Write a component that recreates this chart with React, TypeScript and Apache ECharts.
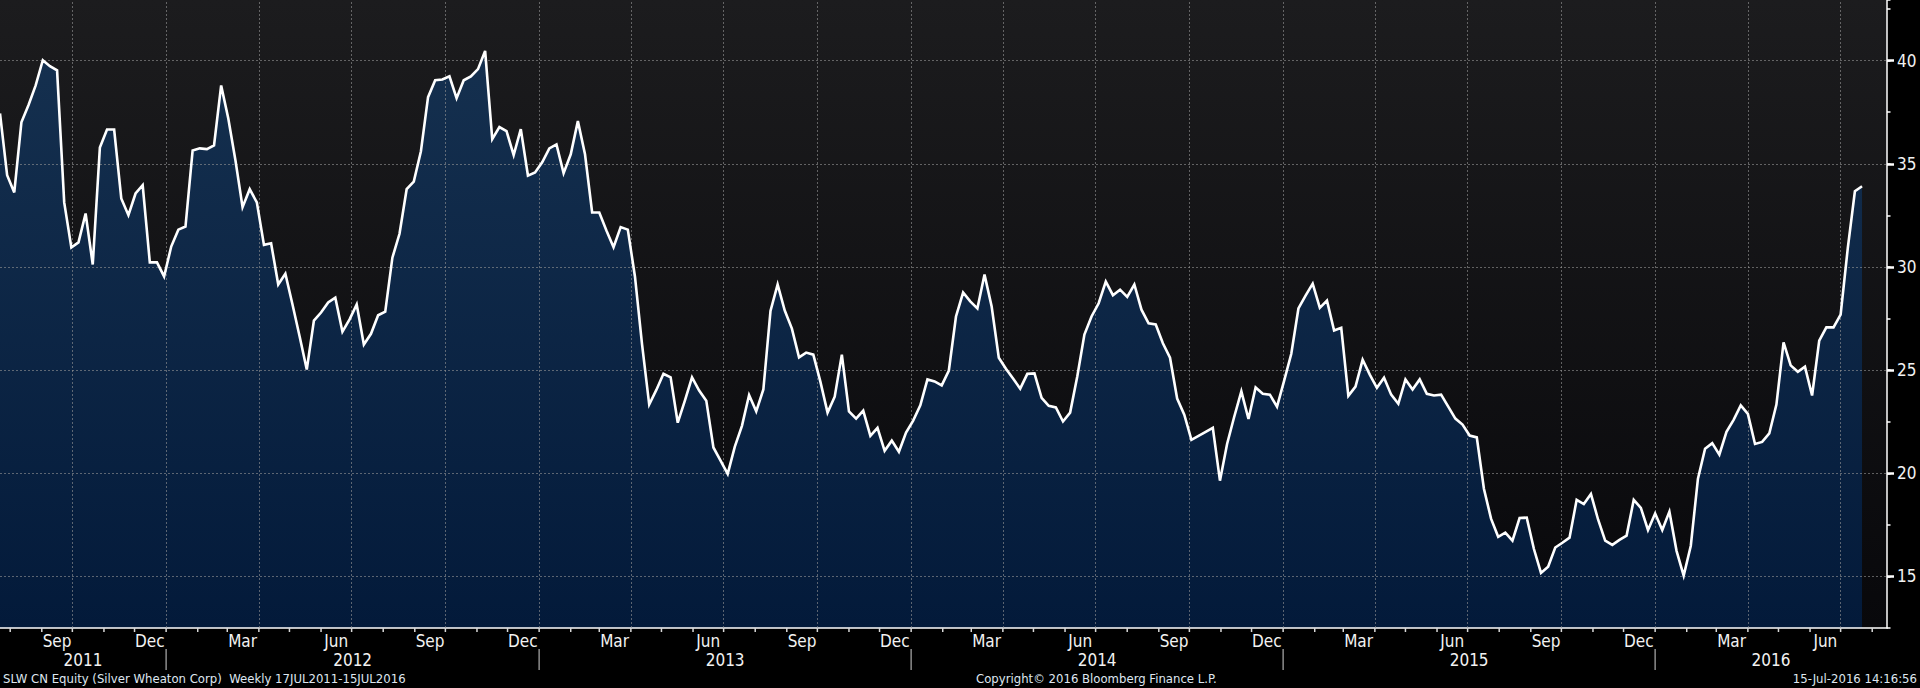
import React, { useEffect, useRef } from "react";
import * as echarts from "echarts";

// ---- data -----------------------------------------------------------------
// Weekly closes of SLW CN Equity, first week ending 22 Jul 2011
const FIRST_WEEK = "2011-07-22";
const prices = [
  37.44, 34.45, 33.61, 37.01, 37.85, 38.8, 40.02, 39.73, 39.53, 33.13,
  30.94, 31.19, 32.59, 30.12, 35.79, 36.66, 36.66, 33.32, 32.51, 33.56,
  33.96, 30.22, 30.22, 29.54, 30.99, 31.81, 31.96, 35.65, 35.75, 35.71,
  35.89, 38.8, 37.2, 35.17, 32.9, 33.77, 33.13, 31.07, 31.15, 29.15,
  29.67, 28.18, 26.63, 25.03, 27.4, 27.79, 28.28, 28.51, 26.86, 27.46,
  28.18, 26.24, 26.76, 27.66, 27.83, 30.45, 31.61, 33.77, 34.14, 35.61,
  38.23, 39.05, 39.09, 39.24, 38.18, 39.05, 39.24, 39.59, 40.47, 36.2,
  36.78, 36.58, 35.42, 36.68, 34.43, 34.58, 35.07, 35.75, 35.94, 34.55,
  35.46, 37.07, 35.46, 32.64, 32.64, 31.77, 30.96, 31.93, 31.81, 29.54,
  26.24, 23.33, 24.04, 24.82, 24.65, 22.45, 23.52, 24.65, 24.01, 23.52,
  21.25, 20.61, 19.97, 21.29, 22.3, 23.79, 23.0, 24.06, 27.87, 29.15,
  27.89, 27.01, 25.62, 25.85, 25.75, 24.43, 22.94, 23.71, 25.75, 23.0,
  22.65, 23.04, 21.81, 22.2, 21.09, 21.58, 21.04, 21.97, 22.55, 23.29,
  24.55, 24.45, 24.26, 24.98, 27.6, 28.76, 28.33, 27.99, 29.63, 28.08,
  25.6, 25.07, 24.59, 24.1, 24.82, 24.84, 23.66, 23.27, 23.19, 22.51,
  22.94, 24.69, 26.72, 27.6, 28.24, 29.29, 28.63, 28.9, 28.55, 29.15,
  27.93, 27.27, 27.21, 26.3, 25.6, 23.62, 22.84, 21.62, 21.81, 22.01,
  22.2, 19.64, 21.42, 22.74, 23.97, 22.63, 24.16, 23.85, 23.81, 23.23,
  24.49, 25.79, 27.99, 28.61, 29.19, 28.02, 28.37, 26.92, 27.05, 23.75,
  24.2, 25.5, 24.78, 24.14, 24.63, 23.81, 23.37, 24.55, 24.06, 24.55,
  23.85, 23.77, 23.81, 23.23, 22.65, 22.36, 21.83, 21.74, 19.25, 17.8,
  16.92, 17.12, 16.73, 17.83, 17.85, 16.34, 15.17, 15.47, 16.4, 16.63,
  16.88, 18.71, 18.51, 19.0, 17.76, 16.73, 16.53, 16.77, 16.98, 18.71,
  18.32, 17.25, 18.05, 17.25, 18.14, 16.24, 15.04, 16.49, 19.74, 21.19,
  21.46, 20.9, 22.01, 22.59, 23.29, 22.88, 21.42, 21.52, 21.93, 23.33,
  26.34, 25.23, 24.92, 25.17, 23.77, 26.43, 27.07, 27.07, 27.69, 30.9,
  33.67, 33.91,
];

// axis extents
const X_MIN_DATE = "2011-07-22T00:00:00Z";
const X_MAX_DATE = "2016-08-15T12:00:00Z";
const Y_MIN = 12.5;
const Y_MAX = 42.94;

// quarter grid lines (month boundaries after Sep/Dec/Mar/Jun)
const quarterLines = [
  "2011-10-01", "2012-01-01", "2012-04-01", "2012-07-01", "2012-10-01",
  "2013-01-01", "2013-04-01", "2013-07-01", "2013-10-01", "2014-01-01",
  "2014-04-01", "2014-07-01", "2014-10-01", "2015-01-01", "2015-04-01",
  "2015-07-01", "2015-10-01", "2016-01-01", "2016-04-01", "2016-07-01",
];

// month tick labels (centred on the middle of the month)
const monthLabelNames = [
  "Sep", "Dec", "Mar", "Jun", "Sep", "Dec", "Mar", "Jun", "Sep", "Dec",
  "Mar", "Jun", "Sep", "Dec", "Mar", "Jun", "Sep", "Dec", "Mar", "Jun",
];
const monthLabelDates = [
  "2011-09-16", "2011-12-16", "2012-03-16", "2012-06-16", "2012-09-16",
  "2012-12-16", "2013-03-16", "2013-06-16", "2013-09-16", "2013-12-16",
  "2014-03-16", "2014-06-16", "2014-09-16", "2014-12-16", "2015-03-16",
  "2015-06-16", "2015-09-16", "2015-12-16", "2016-03-16", "2016-06-16",
];

// year labels and separators
const yearNames = ["2011", "2012", "2013", "2014", "2015", "2016"];
const yearSeparators = ["2012-01-01", "2013-01-01", "2014-01-01", "2015-01-01", "2016-01-01"];

// month-start minor ticks on the time axis
const FIRST_TICK_MONTH = [2011, 7]; // Aug 2011
const MONTH_TICK_COUNT = 61;

// footer texts
const footerLeft = "SLW CN Equity (Silver Wheaton Corp)  Weekly 17JUL2011-15JUL2016";
const footerCenter = "Copyright\u00A9 2016 Bloomberg Finance L.P.";
const footerRight = "15-Jul-2016 14:16:56";

// ---- derived --------------------------------------------------------------
const DAY = 86400000;
const t0 = Date.parse(FIRST_WEEK + "T00:00:00Z");
const xMin = Date.parse(X_MIN_DATE);
const xMax = Date.parse(X_MAX_DATE);
const seriesData = prices.map((v, i) => [t0 + i * 7 * DAY, v]);
const monthTicks: number[] = [];
for (let k = 0; k < MONTH_TICK_COUNT; k++) {
  monthTicks.push(Date.UTC(FIRST_TICK_MONTH[0], FIRST_TICK_MONTH[1] + k, 1));
}
const yearCenters = yearNames.map((y) => {
  const s = Math.max(Date.UTC(+y, 0, 1), xMin);
  const e = Math.min(Date.UTC(+y + 1, 0, 1), xMax);
  return (s + e) / 2;
});

const FONT = '"DejaVu Sans Condensed", "Liberation Sans Narrow", "DejaVu Sans", sans-serif';
const LABEL_COLOR = "#f2f2f2";

function buildOption(): any {
  const axisBottom = (api: any, t: number) => api.coord([t, Y_MIN]);
  return {
    animation: false,
    backgroundColor: "#000000",
    grid: [
      {
        left: 0,
        right: 33,
        top: 0,
        bottom: 60,
        containLabel: false,
        outerBoundsMode: "none",
        show: true,
        borderWidth: 0,
        backgroundColor: new echarts.graphic.LinearGradient(0, 0, 0, 1, [
          { offset: 0, color: "#1c1c1e" },
          { offset: 1, color: "#08080b" },
        ]),
      },
    ],
    xAxis: [
      {
        type: "value",
        gridIndex: 0,
        min: xMin,
        max: xMax,
        z: 3,
        axisLine: { show: true, onZero: false, lineStyle: { color: "#ffffff", width: 1.5 } },
        axisTick: { show: false },
        axisLabel: { show: false },
        splitLine: { show: false },
      },
    ],
    yAxis: [
      {
        type: "value",
        gridIndex: 0,
        position: "right",
        min: Y_MIN,
        max: Y_MAX,
        splitNumber: 6,
        z: 2,
        axisLine: { show: true, lineStyle: { color: "#ffffff", width: 1.5 } },
        axisTick: { show: true, length: 7, lineStyle: { color: "#ffffff", width: 2.5 } },
        axisLabel: {
          show: true,
          margin: 10,
          color: LABEL_COLOR,
          fontSize: 17,
          fontFamily: FONT,
          showMinLabel: false,
          showMaxLabel: false,
        },
        splitLine: {
          show: true,
          showMinLine: false,
          showMaxLine: false,
          lineStyle: { color: "rgba(150,150,150,0.6)", width: 1, type: [2, 2] },
        },
      },
      {
        type: "value",
        gridIndex: 0,
        position: "right",
        min: Y_MIN,
        max: Y_MAX,
        interval: 2.5,
        z: 2,
        axisLine: { show: false },
        axisTick: { show: true, length: 3.5, lineStyle: { color: "#ffffff", width: 1.5 } },
        axisLabel: { show: false },
        splitLine: { show: false },
      },
    ],
    series: [
      {
        type: "line",
        name: "area",
        xAxisIndex: 0,
        yAxisIndex: 0,
        z: 1,
        silent: true,
        showSymbol: false,
        symbol: "none",
        data: seriesData,
        lineStyle: { width: 0, opacity: 0 },
        areaStyle: {
          origin: "start",
          opacity: 1,
          color: new echarts.graphic.LinearGradient(0, 0, 0, 1, [
            { offset: 0, color: "#15304f" },
            { offset: 1, color: "#031a3a" },
          ]),
        },
        markLine: {
          silent: true,
          animation: false,
          symbol: ["none", "none"],
          label: { show: false },
          lineStyle: { color: "rgba(150,150,150,0.6)", width: 1, type: [2, 2] },
          emphasis: { disabled: true },
          data: quarterLines.map((d) => ({ xAxis: Date.parse(d + "T00:00:00Z") })),
        },
      },
      {
        type: "line",
        name: "SLW CN Equity",
        xAxisIndex: 0,
        yAxisIndex: 0,
        z: 10,
        silent: true,
        showSymbol: false,
        symbol: "none",
        data: seriesData,
        lineStyle: { color: "#ffffff", width: 2.6, join: "miter" },
      },
      {
        type: "custom",
        name: "monthTicks",
        xAxisIndex: 0,
        yAxisIndex: 0,
        z: 4,
        silent: true,
        clip: false,
        data: monthTicks.map((t) => [t, Y_MIN]),
        renderItem: (_p: any, api: any) => {
          const p = axisBottom(api, api.value(0));
          return {
            type: "line",
            shape: { x1: p[0], y1: p[1], x2: p[0], y2: p[1] + 4 },
            style: { stroke: "#d8d8d8", lineWidth: 1.5 },
          };
        },
      },
      {
        type: "custom",
        name: "yearSeparators",
        xAxisIndex: 0,
        yAxisIndex: 0,
        z: 4,
        silent: true,
        clip: false,
        data: yearSeparators.map((d) => [Date.parse(d + "T00:00:00Z"), Y_MIN]),
        renderItem: (_p: any, api: any) => {
          const p = axisBottom(api, api.value(0));
          return {
            type: "line",
            shape: { x1: p[0], y1: p[1] + 21, x2: p[0], y2: p[1] + 42 },
            style: { stroke: "#8c8c8c", lineWidth: 1.5 },
          };
        },
      },
      {
        type: "custom",
        name: "monthLabels",
        xAxisIndex: 0,
        yAxisIndex: 0,
        z: 4,
        silent: true,
        clip: false,
        data: monthLabelDates.map((d) => [Date.parse(d + "T00:00:00Z"), Y_MIN]),
        renderItem: (params: any, api: any) => {
          const p = axisBottom(api, api.value(0));
          return {
            type: "text",
            style: {
              text: monthLabelNames[params.dataIndex],
              x: p[0],
              y: p[1] + 12.5,
              fill: LABEL_COLOR,
              font: "17px " + FONT,
              align: "center",
              verticalAlign: "middle",
              textAlign: "center",
              textVerticalAlign: "middle",
            },
          };
        },
      },
      {
        type: "custom",
        name: "yearLabels",
        xAxisIndex: 0,
        yAxisIndex: 0,
        z: 4,
        silent: true,
        clip: false,
        data: yearCenters.map((t) => [t, Y_MIN]),
        renderItem: (params: any, api: any) => {
          const p = axisBottom(api, api.value(0));
          return {
            type: "text",
            style: {
              text: yearNames[params.dataIndex],
              x: p[0],
              y: p[1] + 31.5,
              fill: LABEL_COLOR,
              font: "17px " + FONT,
              align: "center",
              verticalAlign: "middle",
              textAlign: "center",
              textVerticalAlign: "middle",
            },
          };
        },
      },
    ],
    graphic: [
      {
        type: "text",
        left: 3,
        top: 672,
        silent: true,
        style: { text: footerLeft, fill: "#dfe7f0", font: "13px " + FONT },
      },
      {
        type: "text",
        left: 976,
        top: 672,
        silent: true,
        style: { text: footerCenter, fill: "#dfe7f0", font: "13px " + FONT },
      },
      {
        type: "text",
        right: 3,
        top: 672,
        silent: true,
        style: { text: footerRight, fill: "#dfe7f0", font: "13px " + FONT },
      },
    ],
  };
}

export default function App() {
  const ref = useRef<HTMLDivElement>(null);
  useEffect(() => {
    document.body.style.margin = "0";
    document.body.style.background = "#000";
    if (!ref.current) return;
    const chart = echarts.init(ref.current, null, { renderer: "svg" });
    chart.setOption(buildOption());
    return () => chart.dispose();
  }, []);
  return <div ref={ref} style={{ width: 1920, height: 688, background: "#000" }} />;
}
